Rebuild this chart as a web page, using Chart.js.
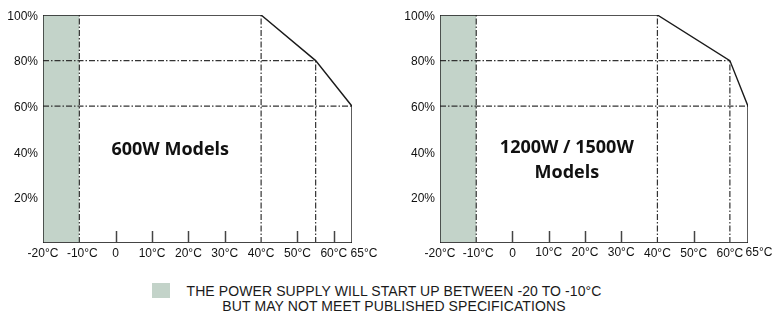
<!DOCTYPE html>
<html><head><meta charset="utf-8">
<script src="https://cdn.jsdelivr.net/npm/chart.js@4"></script>
<style>
body{margin:0;background:#fff;width:775px;height:316px;overflow:hidden;position:relative;font-family:"Liberation Sans",Arial,sans-serif}
.box{position:absolute;top:0;height:275px}
#b1{left:0;width:390px}
#b2{left:390px;width:385px}
#sw{position:absolute;left:152px;top:283px;width:18px;height:15px;background:#c3d3c9}
#lg{position:absolute;left:180px;top:284px;width:428px;text-align:center;font-size:14px;line-height:15px;color:#1a1a1a;white-space:nowrap;letter-spacing:0.1px}
</style></head><body>
<div class="box" id="b1"><canvas id="c1"></canvas></div>
<div class="box" id="b2"><canvas id="c2"></canvas></div>
<div id="sw"></div>
<div id="lg">THE POWER SUPPLY WILL START UP BETWEEN -20 TO -10°C<br>BUT MAY NOT MEET PUBLISHED SPECIFICATIONS</div>
<script>
// ---- data ----
const xTickValues = [-20, -10, 0, 10, 20, 30, 40, 50, 60, 65];
const xTickLabels = ['-20°C', '-10°C', '0', '10°C', '20°C', '30°C', '40°C', '50°C', '60°C', '65°C'];
const yTickValues = [20, 40, 60, 80, 100];
const yTickLabels = ['20%', '40%', '60%', '80%', '100%'];
const startupBand = [-20, -10];           // °C range of the shaded start-up band
// derating curves (temperature °C, load %)
const temp600 = [-20, -20, 40, 55, 65, 65];
const load600 = [0, 100, 100, 80, 60, 0];
const temp1200 = [-20, -20, 40, 60, 65, 65];
const load1200 = [0, 100, 100, 80, 60, 0];
// reference (dash-dot) lines: vertical [temp, up to load], horizontal [load, up to temp]
const refV600 = [[-10, 100], [40, 100], [55, 80]];
const refH600 = [[80, 55], [60, 65]];
const refV1200 = [[-10, 100], [40, 100], [60, 80]];
const refH1200 = [[80, 60], [60, 65]];
const innerTicks600 = [0, 10, 20, 30, 50, 60];
const innerTicks1200 = [0, 10, 20, 30, 50];
const title600 = ['600W Models'];
const title1200 = ['1200W / 1500W', 'Models'];

const overlay = {
  id: 'overlay',
  afterDatasetsDraw(chart, args, o) {
    const {ctx, scales: {x, y}} = chart;
    const b = y.getPixelForValue(0);
    ctx.save();
    ctx.strokeStyle = '#444'; ctx.lineWidth = 1.5;
    o.innerTicks.forEach(v => {
      const px = Math.round(x.getPixelForValue(v)) + 0.5;
      ctx.beginPath(); ctx.moveTo(px, b); ctx.lineTo(px, b - 12); ctx.stroke();
    });
    ctx.fillStyle = '#111';
    ctx.font = '12px "Liberation Sans", Arial, sans-serif';
    ctx.textAlign = 'center'; ctx.textBaseline = 'top';
    xTickValues.forEach((v, i) => {
      ctx.fillText(xTickLabels[i], x.getPixelForValue(v) + (o.nudge[v] || 0), b + o.labelGap + (o.lift[v] || 0));
    });
    ctx.font = 'bold 18px "Open Sans", sans-serif';
    ctx.textBaseline = 'middle';
    o.title.forEach((t, i) => {
      ctx.fillText(t, x.getPixelForValue(o.titleAt[0]), y.getPixelForValue(o.titleAt[1]) + i * o.titleLine);
    });
    ctx.restore();
  }
};

function seg(points, style) {
  return Object.assign({data: points, pointRadius: 0, fill: false, tension: 0, borderCapStyle: 'butt'}, style);
}

function makeChart(id, temps, loads, refV, refH, innerTicks, title, L) {
  const dash = {borderColor: '#333', borderWidth: 1.2, borderDash: [6, 2, 1.5, 2]};
  const datasets = [];
  datasets.push(seg(temps.map((t, i) => ({x: t, y: loads[i]})), {borderColor: '#1a1a1a', borderWidth: 1.4}));
  datasets.push(seg([{x: xTickValues[0], y: 0}, {x: xTickValues[xTickValues.length - 1], y: 0}], {borderColor: '#444', borderWidth: 2}));
  refV.forEach(([t, l]) => datasets.push(seg([{x: t, y: 0}, {x: t, y: l}], dash)));
  refH.forEach(([l, t]) => datasets.push(seg([{x: xTickValues[0], y: l}, {x: t, y: l}], dash)));
  datasets.push(seg([{x: startupBand[0], y: 100}, {x: startupBand[1], y: 100}], {borderWidth: 0, fill: 'origin', backgroundColor: '#c3d3c9'}));
  return new Chart(document.getElementById(id), {
    type: 'line',
    data: {datasets},
    options: {
      responsive: true, maintainAspectRatio: false, animation: false,
      events: [],
      layout: {padding: {left: 0, right: L.right, top: 15, bottom: 32}},
      plugins: {legend: {display: false}, tooltip: {enabled: false},
        overlay: {innerTicks, nudge: L.nudge, lift: L.lift, labelGap: 5, title, titleAt: L.titleAt, titleLine: 25}},
      scales: {
        x: {type: 'linear', display: false, min: -20, max: 65},
        y: {type: 'linear', min: 0, max: 100,
          afterBuildTicks: s => { s.ticks = yTickValues.map(v => ({value: v})); },
          afterFit: s => { s.width = L.yw; },
          grid: {display: false, drawTicks: false}, border: {display: false},
          ticks: {padding: 5, labelOffset: 1.5, color: '#111', font: {family: '"Liberation Sans", Arial, sans-serif', size: 12},
            callback: (v, i) => yTickLabels[i]}}
      }
    },
    plugins: [overlay]
  });
}

makeChart('c1', temp600, load600, refV600, refH600, innerTicks600, title600,
  {right: 38, yw: 43, nudge: {'-10': 3, 65: 12}, lift: {}, titleAt: [15, 41]});
makeChart('c2', temp1200, load1200, refV1200, refH1200, innerTicks1200, title1200,
  {right: 27, yw: 50, nudge: {'-10': 2, 65: 11}, lift: {10: -1.5, 20: -1.5, 30: -1.5, 65: -1.5}, titleAt: [15, 41.8]});
</script>
</body></html>
